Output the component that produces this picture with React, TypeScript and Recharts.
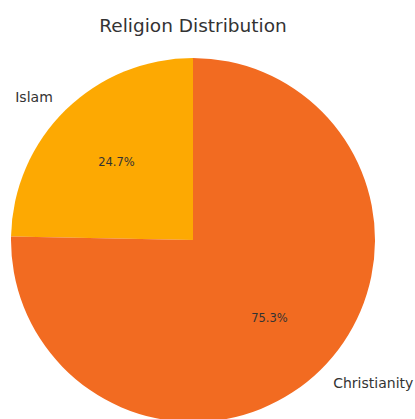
import { Cell, Pie, PieChart } from "recharts";

const religions = ["Islam", "Christianity"];
const shares = [24.7, 75.3];
const sliceColors = ["#FDA902", "#F26B21"];

const data = religions.map((name, i) => ({ name, value: shares[i] }));

const RADIAN = Math.PI / 180;
const FONT = "'DejaVu Sans', sans-serif";

function SliceLabel(props: {
  cx?: number;
  cy?: number;
  midAngle?: number;
  outerRadius?: number;
  percent?: number;
  name?: string;
}) {
  const { cx = 0, cy = 0, midAngle = 0, outerRadius = 0, percent = 0, name } = props;
  const cos = Math.cos(-midAngle * RADIAN);
  const sin = Math.sin(-midAngle * RADIAN);
  const lx = cx + outerRadius * 1.1 * cos;
  const ly = cy + outerRadius * 1.1 * sin;
  const px = cx + outerRadius * 0.6 * cos;
  const py = cy + outerRadius * 0.6 * sin;
  return (
    <g>
      <text
        x={lx}
        y={ly}
        textAnchor={cos < 0 ? "end" : "start"}
        dominantBaseline="central"
        fill="#333"
        fontSize={14}
        fontFamily={FONT}
      >
        {name}
      </text>
      <text
        x={px}
        y={py}
        textAnchor="middle"
        dominantBaseline="central"
        fill="#333"
        fontSize={11.5}
        fontFamily={FONT}
      >
        {(percent * 100).toFixed(1)}%
      </text>
    </g>
  );
}

export default function App() {
  return (
    <div
      style={{
        position: "fixed",
        left: 0,
        top: 0,
        width: 415,
        height: 419,
        background: "#fff",
        overflow: "hidden",
      }}
    >
      <div
        style={{
          position: "absolute",
          left: 0,
          top: 15,
          width: 386,
          textAlign: "center",
          fontFamily: FONT,
          fontSize: 18.5,
          color: "#333",
          lineHeight: "22px",
        }}
      >
        Religion Distribution
      </div>
      <PieChart
        width={415}
        height={419}
        margin={{ top: 0, right: 0, bottom: 0, left: 0 }}
        style={{ position: "absolute", left: 0, top: 0 }}
      >
        <Pie
          data={data}
          dataKey="value"
          nameKey="name"
          cx={193}
          cy={240}
          outerRadius={182}
          startAngle={90}
          endAngle={450}
          stroke="none"
          labelLine={false}
          label={SliceLabel}
          isAnimationActive={false}
        >
          {data.map((d, i) => (
            <Cell key={d.name} fill={sliceColors[i]} />
          ))}
        </Pie>
      </PieChart>
    </div>
  );
}
